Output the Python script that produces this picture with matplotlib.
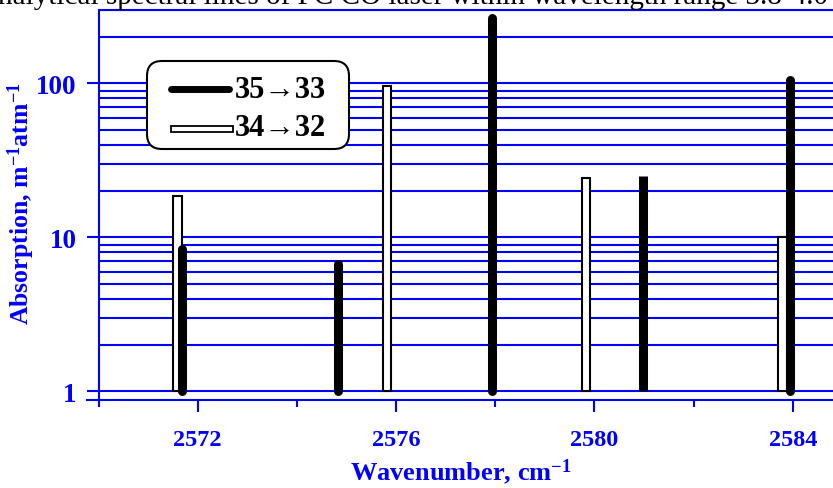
import numpy as np
import matplotlib
matplotlib.use("Agg")
import matplotlib.pyplot as plt
from matplotlib.patches import FancyBboxPatch, Rectangle
from matplotlib.lines import Line2D

# ---- data -------------------------------------------------------------
# band 35->33 (filled lines) and band 34->32 (open lines)
wn_35_33 = [2571.69, 2574.82, 2577.93, 2580.98, 2583.94]
abs_35_33 = [8.4, 6.7, 268.0, 25.0, 106.0]
cap_35_33 = ["round", "round", "round", "butt", "round"]

wn_34_32 = [2571.59, 2575.82, 2579.83, 2583.79]
abs_34_32 = [18.7, 96.0, 24.3, 10.0]

x_major = [2572, 2576, 2580, 2584]
x_minor = [2574, 2578, 2582]
y_major = [1, 10, 100]
y_major_labels = ["1", "10", "100"]
y_minor = [2, 3, 4, 5, 6, 7, 8, 9, 20, 30, 40, 50, 60, 70, 80, 90, 200, 300]

label_35_33 = "35\u219233"
label_34_32 = "34\u219232"
title_text = "analytical spectral lines of PC CO laser within wavelength range 3.8-4.0 \u03bcm"

# ---- style ------------------------------------------------------------
BLUE = "#0000FF"
SERIF = ["Liberation Serif", "DejaVu Serif"]
plt.rcParams.update({
    "font.family": SERIF,
    "mathtext.fontset": "custom",
    "mathtext.rm": "Liberation Serif:bold",
    "mathtext.bf": "Liberation Serif:bold",
    "mathtext.it": "Liberation Serif:bold",
    "mathtext.default": "bf",
})

W, H = 833, 489
fig = plt.figure(figsize=(W / 100, H / 100), dpi=100)
fig.patch.set_facecolor("white")


def px(x, y):
    """top-left pixel position -> figure fraction"""
    return x / W, 1 - y / H


ax = fig.add_axes([98.5 / W, 88 / H, 793.5 / W, 390 / H])
ax.set_xlim(2570, 2586)
ax.set_yscale("log")
ax.set_ylim(0.88, 300)

# horizontal grid at every decade subdivision
ax.set_yticks(y_major)
ax.set_yticklabels(y_major_labels)
ax.set_yticks(y_minor, minor=True)
ax.yaxis.set_minor_formatter(matplotlib.ticker.NullFormatter())
ax.grid(True, axis="y", which="both", color=BLUE, linewidth=1.5, zorder=1)
ax.set_axisbelow(True)

ax.set_xticks(x_major)
ax.set_xticks(x_minor, minor=True)

ax.tick_params(axis="y", which="major", direction="out", length=8.6, width=1.5,
               color=BLUE, labelcolor=BLUE, labelsize=19.5, pad=7)
ax.tick_params(axis="y", which="minor", length=0)
ax.tick_params(axis="x", which="major", direction="out", length=8.6, width=1.5,
               color=BLUE, labelcolor=BLUE, labelsize=17.5, pad=12)
ax.tick_params(axis="x", which="minor", direction="out", length=5, width=1.5,
               color=BLUE)
for lab in ax.get_xticklabels() + ax.get_yticklabels():
    lab.set_fontweight("bold")

for side in ["left", "bottom", "top"]:
    ax.spines[side].set_color(BLUE)
    ax.spines[side].set_linewidth(1.5)
ax.spines["right"].set_visible(False)

# small spine overhangs at the lower-left corner
ax.add_line(Line2D([2570 - 12 / 49.6, 2570], [0.88, 0.88], color=BLUE, lw=1.5,
                   clip_on=False))
ax.add_line(Line2D([2570, 2570], [0.88 * 10 ** (-6 / 154), 0.88], color=BLUE,
                   lw=1.5, clip_on=False))

# open lines (34->32)
ax.bar(wn_34_32, np.array(abs_34_32) - 1, bottom=1, width=0.17,
       color="white", edgecolor="black", linewidth=1.5, zorder=3)

# filled lines (35->33)
for x, v, cap in zip(wn_35_33, abs_35_33, cap_35_33):
    ax.plot([x, x], [1, v], color="black", lw=6.5, solid_capstyle=cap, zorder=4)

# axis titles
ax.set_xlabel("Wavenumber, cm$^{-1}$", color=BLUE, fontsize=19,
              fontweight="bold")
ax.xaxis.set_label_coords((461 - 98.5) / 793.5, -(472 - 401) / 390)
ax.xaxis.label.set_va("center")

fx, fy = px(21, 204)
fig.text(fx, fy, "Absorption, m$^{-1}$atm$^{-1}$", rotation=90, color=BLUE,
         fontsize=18.5, fontweight="bold", ha="center", va="center")

# legend box
box = FancyBboxPatch((147 / 100, (H - 150) / 100), 202 / 100, 88 / 100,
                     boxstyle="round,pad=0,rounding_size=0.15",
                     transform=fig.dpi_scale_trans, facecolor="white",
                     edgecolor="black", linewidth=1.5, zorder=10)
fig.add_artist(box)
x0, y0 = px(170.5, 90)
x1, _ = px(228.5, 90)
fig.add_artist(Line2D([x0, x1], [y0, y0], color="black", lw=5,
                      solid_capstyle="round", zorder=11))
rx, ry = px(171, 133)
fig.add_artist(Rectangle((rx, ry), 62 / W, 6 / H, facecolor="white",
                         edgecolor="black", linewidth=1.3, zorder=11))
tx, ty = px(235, 90)
fig.text(tx, ty, label_35_33, fontsize=22, fontweight="bold", color="black",
         ha="left", va="center", zorder=12)
tx, ty = px(235, 129)
fig.text(tx, ty, label_34_32, fontsize=22, fontweight="bold", color="black",
         ha="left", va="center", zorder=12)

# caption running off the top edge
cx, cy = px(-15, 4)
fig.text(cx, cy, title_text, fontsize=21, color="black", ha="left",
         va="baseline", family=SERIF)

fig.savefig("out.png", dpi=100)
